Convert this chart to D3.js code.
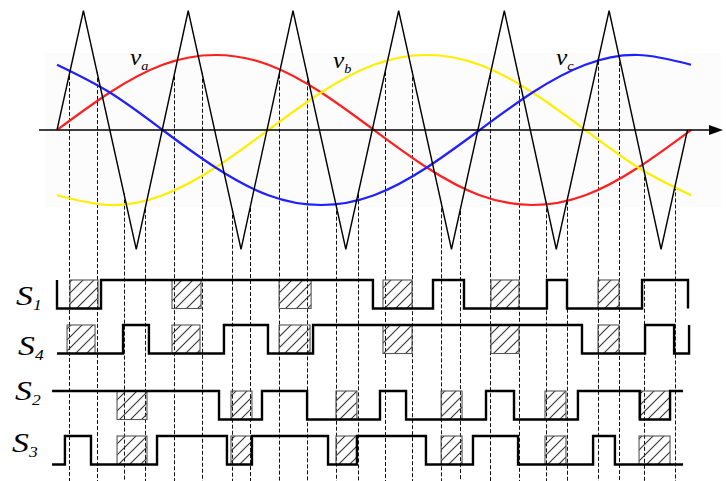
<!DOCTYPE html>
<html>
<head>
<meta charset="utf-8">
<script src="https://cdn.jsdelivr.net/npm/d3@7"></script>
<style>
  body { margin: 0; background: #fff; }
  svg { display: block; }
</style>
</head>
<body>
<script>
// time is in electrical degrees over one fundamental period
const sineAngles = [0, 30, 60, 90, 120, 150, 180, 210, 240, 270, 300, 330, 360];
const va = [0, 0.5, 0.87, 1, 0.87, 0.5, 0, -0.5, -0.87, -1, -0.87, -0.5, 0];
const vb = [-0.87, -1, -0.87, -0.5, 0, 0.5, 0.87, 1, 0.87, 0.5, 0, -0.5, -0.87];
const vc = [0.87, 0.5, 0, -0.5, -0.87, -1, -0.87, -0.5, 0, 0.5, 0.87, 1, 0.87];

// triangular carrier, vertices only
const carrierAngles = [0, 15, 45, 74.5, 104.5, 134, 164, 194, 224, 254, 283.5, 313.5, 343, 358];
const carrierValues = [0, 1.59, -1.59, 1.59, -1.59, 1.59, -1.59, 1.59, -1.59, 1.59, -1.59, 1.59, -1.59, 0];

// switching instants (dashed lines)
const switchAngles = [6.8, 22.7, 38.0, 50.0, 66.4, 82.3, 99.4, 109.6, 126.1, 142.0, 158.4, 170.9,
                      186.3, 201.6, 218.1, 228.8, 245.9, 262.3, 277.7, 289.6, 307.2, 319.1, 333.3, 350.9];

// gate signals
const signalNames = ["1", "4", "2", "3"];
const signalStart = [0, 0, -2.8, -2.8];
const signalInitial = [1, 0, 1, 0];
const signalEnd = [358.3, 358.9, 355.5, 355.5];
const s1Toggles = [0, 25.0, 179.4, 213.5, 231.1, 278.2, 289.6, 332.2, 358.3];
const s4Toggles = [37.5, 52.2, 94.8, 119.8, 145.4, 298.1, 333.9, 350.4, 358.9];
const s2Toggles = [92.0, 116.4, 142.0, 183.4, 198.2, 243.6, 259.5, 295.8, 331.0, 348.1];
const s3Toggles = [4.5, 19.3, 56.8, 96.5, 110.7, 153.9, 170.3, 209.5, 236.2, 261.8, 304.4, 316.8];

// hatched (dead-time) intervals
const s1Boxes = [[7.4, 23.3], [65.3, 81.8], [126.1, 144.3], [185.1, 201.6], [246.4, 262.3], [307.2, 319.1]];
const s4Boxes = [[5.7, 21.6], [65.3, 81.2], [126.1, 143.7], [185.1, 201.6], [246.4, 262.3], [307.2, 319.1]];
const s2Boxes = [[34.1, 51.1], [98.8, 110.7], [158.4, 170.3], [218.1, 230.0], [277.1, 289.0], [330.5, 348.1]];
const s3Boxes = [[34.1, 51.1], [98.8, 110.7], [158.4, 170.3], [218.1, 230.0], [277.1, 289.0], [330.5, 348.1]];

const toggles = [s1Toggles, s4Toggles, s2Toggles, s3Toggles];
const boxes = [s1Boxes, s4Boxes, s2Boxes, s3Boxes];

const width = 726, height = 481;

const svg = d3.select('body').append('svg')
  .attr('width', width)
  .attr('height', height)
  .style('background', '#fff');

const defs = svg.append('defs');
const hatch = defs.append('pattern')
  .attr('id', 'hatch')
  .attr('patternUnits', 'userSpaceOnUse')
  .attr('width', 11)
  .attr('height', 11);
hatch.append('path')
  .attr('d', 'M-1,1 l2,-2 M0,11 l11,-11 M10,12 l2,-2')
  .attr('stroke', '#333')
  .attr('stroke-width', 1.1);

const x = d3.scaleLinear().domain([0, 360]).range([57, 691]);
const y = d3.scaleLinear().domain([-1, 1]).range([205, 55]);

// very faint background behind the references
svg.append('rect')
  .attr('x', 45).attr('y', 53)
  .attr('width', 676).attr('height', 154)
  .attr('fill', '#fcfcfc');

// carrier value at an angle (used for the top of the dashed lines)
function carrierAt(a) {
  const i = Math.max(1, Math.min(carrierAngles.length - 1, d3.bisectRight(carrierAngles, a)));
  const a0 = carrierAngles[i - 1], a1 = carrierAngles[i];
  return d3.interpolateNumber(carrierValues[i - 1], carrierValues[i])((a - a0) / (a1 - a0));
}

// snap the dashed lines to the pixel grid so they stay crisp
svg.append('g').selectAll('line')
  .data(switchAngles)
  .enter()
  .append('line')
  .attr('x1', d => Math.round(x(d)) + 0.5).attr('x2', d => Math.round(x(d)) + 0.5)
  .attr('y1', d => y(carrierAt(d)))
  .attr('y2', height)
  .attr('stroke', '#111')
  .attr('stroke-width', 1)
  .attr('stroke-dasharray', '4,2');

// sine references
const sineLine = d3.line()
  .x((d, i) => x(sineAngles[i]))
  .y(d => y(d))
  .curve(d3.curveNatural);

[[va, '#ff1f1f'], [vb, '#ffee00'], [vc, '#1f1fff']].forEach(function (s) {
  svg.append('path')
    .datum(s[0])
    .attr('d', sineLine)
    .attr('fill', 'none')
    .attr('stroke', s[1])
    .attr('stroke-width', 2.2);
});

// carrier
svg.append('path')
  .datum(carrierValues)
  .attr('d', d3.line().x((d, i) => x(carrierAngles[i])).y(d => y(d)))
  .attr('fill', 'none')
  .attr('stroke', '#000')
  .attr('stroke-width', 1.4);

// time axis with arrow
svg.append('line')
  .attr('x1', 39).attr('x2', 712)
  .attr('y1', y(0)).attr('y2', y(0))
  .attr('stroke', '#000')
  .attr('stroke-width', 1.5);
svg.append('path')
  .attr('d', 'M709,' + (y(0) - 5) + ' L723,' + y(0) + ' L709,' + (y(0) + 5) + ' Z')
  .attr('fill', '#000');

// reference labels
const refLabels = [['a', 130, 65], ['b', 333, 68], ['c', 556, 65]];
refLabels.forEach(function (l) {
  const t = svg.append('text')
    .attr('transform', 'translate(' + l[1] + ',' + l[2] + ') scale(1.1,1)')
    .attr('font-family', 'Liberation Serif, Times New Roman, serif')
    .attr('font-style', 'italic')
    .attr('font-size', 23)
    .text('v');
  t.append('tspan')
    .attr('dy', 5)
    .attr('font-size', 13)
    .text(l[0]);
});

// gate signal rows
const rowTop = d3.scaleOrdinal().domain(signalNames).range([280, 325, 391, 436]);
const rowH = 28.5;
const labelPos = [[16, 305], [18, 355], [15, 400], [12, 452]];

signalNames.forEach(function (name, k) {
  const top = rowTop(name);
  const lev = d3.scaleLinear().domain([0, 1]).range([top + rowH, top]);

  svg.append('g').selectAll('rect')
    .data(boxes[k])
    .enter()
    .append('rect')
    .attr('x', d => x(d[0]))
    .attr('y', top)
    .attr('width', d => x(d[1]) - x(d[0]))
    .attr('height', rowH)
    .attr('fill', 'url(#hatch)')
    .attr('stroke', '#555')
    .attr('stroke-width', 1.1);

  // build the step path from the toggle list
  let cur = signalInitial[k];
  const pts = [[signalStart[k], cur]];
  toggles[k].forEach(function (t) {
    pts.push([t, cur]);
    cur = 1 - cur;
    pts.push([t, cur]);
  });
  pts.push([signalEnd[k], cur]);

  svg.append('path')
    .datum(pts)
    .attr('d', d3.line().x(d => x(d[0])).y(d => lev(d[1])))
    .attr('fill', 'none')
    .attr('stroke', '#000')
    .attr('stroke-width', 2.4);

  const t = svg.append('text')
    .attr('transform', 'translate(' + labelPos[k][0] + ',' + labelPos[k][1] + ') scale(1.25,1)')
    .attr('font-family', 'Liberation Serif, Times New Roman, serif')
    .attr('font-style', 'italic')
    .attr('font-size', 27)
    .text('S');
  t.append('tspan')
    .attr('dy', 5)
    .attr('font-size', 14)
    .text(name);
});
</script>
</body>
</html>
